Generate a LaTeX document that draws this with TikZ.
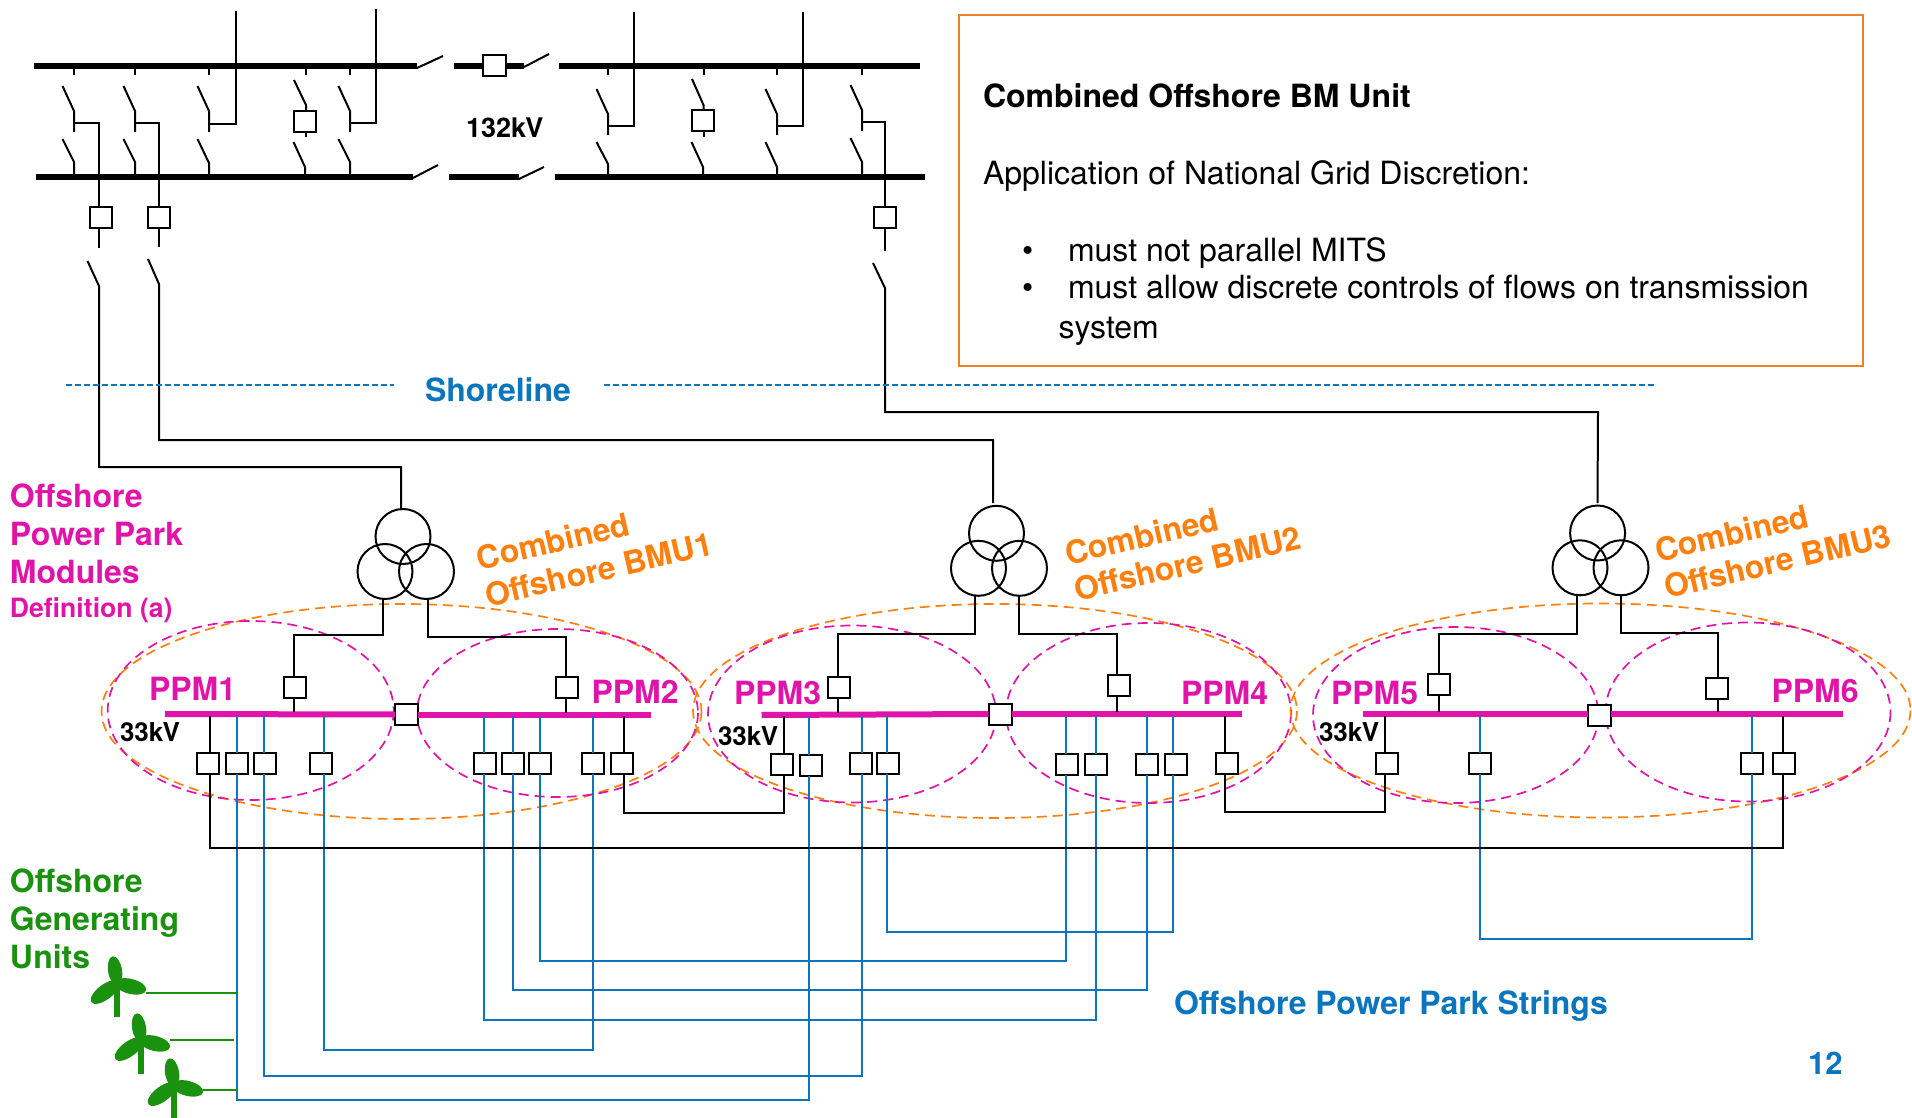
\documentclass[tikz,border=0pt]{standalone}
\usepackage{fontspec}
\setmainfont{TeX Gyre Heros}
\newcommand{\fs}[1]{\fontsize{#1}{#1}\selectfont}
\definecolor{mg}{HTML}{E014A8}
\definecolor{og}{HTML}{FF7F0F}
\definecolor{bl}{HTML}{0B75BE}
\definecolor{gn}{HTML}{1B9110}
\definecolor{bxo}{HTML}{EE8025}
\tikzset{
  wire/.style={line width=1pt,black,line join=miter},
  bw/.style={line width=1pt,bl,line join=miter},
  gw/.style={line width=1pt,gn},
  hvbus/.style={line width=3pt,black},
  mgbus/.style={line width=3pt,mg},
  sbox/.style={draw,rectangle,line width=1pt,minimum width=11pt,minimum height=10.5pt,inner sep=0,outer sep=0},
  cbox/.style={sbox,fill=white,minimum width=11.5pt},
  wdg/.style={draw,circle,line width=1pt,minimum size=27.5pt,inner sep=0,outer sep=0},
  lbl/.style={anchor=base west,inner sep=0,outer sep=0,font=\bfseries},
  mgl/.style={lbl,text=mg},
  ogl/.style={lbl,text=og,rotate=13,font=\bfseries\fs{16}},
  mge/.style={draw=mg,line width=.85pt,dash pattern=on 5pt off 3pt},
  oge/.style={draw=og,line width=.85pt,dash pattern=on 5pt off 3pt},
  shore/.style={draw=bl,line width=.6pt,dash pattern=on 3pt off 1.5pt},
  plain/.style={anchor=base west,inner sep=0,outer sep=0,font=\fs{16}}
}
\newcommand{\strng}[5]{\draw[bw] (#1.south -| #2,0) -- (#2,#5) -- (#4,#5) -- (#3.south -| #4,0);}
\newcommand{\blk}[5]{\draw[wire] (#1.south -| #2,0) -- (#2,#5) -- (#4,#5) -- (#3.south -| #4,0);}
\newcommand{\turb}[6]{% hub x, hub y, stem bottom, line y, line x0, line x1
  \begin{scope}[shift={(#1,#2)}]
    \fill[gn,rotate=99] (12.5,0) ellipse (14.5 and 7);
    \fill[gn,rotate=-14] (14,0) ellipse (16 and 7.5);
    \fill[gn,rotate=217] (15,0) ellipse (17 and 7.5);
  \end{scope}
  \draw[line width=3pt,gn] (#1,#2) -- (#1,#3);
  \draw[gw] (#5,#4) -- (#6,#4);
}
\begin{document}
\begin{tikzpicture}[x=0.5pt,y=-0.5pt]
\useasboundingbox (0,0) rectangle (1912,1118);
% ellipses
\draw[oge] (401.5,711.5) ellipse (300 and 107.5);
\draw[mge] (250.7,710.5) ellipse (143 and 89.5);
\draw[mge] (557.5,713) ellipse (140.5 and 84);
\draw[oge] (995,711) ellipse (302 and 107);
\draw[mge] (852,714) ellipse (144 and 88.5);
\draw[mge] (1148.5,713) ellipse (142.5 and 90);
\draw[oge] (1600.5,710.5) ellipse (310 and 107);
\draw[mge] (1455.7,715) ellipse (142.7 and 88);
\draw[mge] (1748,712) ellipse (142.5 and 89.5);
% ---------- 132 kV busbars
\draw[hvbus] (34,66) -- (417,66);
\draw[hvbus] (454,66) -- (524,66);
\draw[hvbus] (559,66) -- (920,66);
\draw[hvbus] (36,177) -- (413,177);
\draw[hvbus] (449,177) -- (519,177);
\draw[hvbus] (555,177) -- (925,177);
\draw[wire] (417,68) -- (443,56);
\draw[wire] (524,67) -- (549,54);
\draw[wire] (413,178) -- (438,165);
\draw[wire] (519,179) -- (544,167);
\node[cbox] (cpl) at (494,65.5) {};
% upper isolators
\foreach \x/\d in {74/0,135/0,209/0,350/0,608/3,777/3,862/-1}{
  \draw[wire] (\x,66) -- (\x,75);
  \draw[wire] (\x-11.5,86+\d) -- (\x,111+\d) -- (\x,132+\d);
}
% lower isolators
\foreach \x/\t/\m in {74/139/162,135/139/162,209/139/163,305/142/167,350/139/162,608/142/164,703/142/167,777/142/167,862/138/162}{
  \draw[wire] (\x-11.5,\t) -- (\x,\m) -- (\x,177);
}
% boxed bays
\node[sbox] (u1) at (305,121.5) {};
\node[sbox] (u2) at (703,120.5) {};
\draw[wire] (306,66) -- (306,75);
\draw[wire] (294,80) -- (306,105) -- (u1.north -| 306,0);
\draw[wire] (u1.south -| 306,0) -- (306,137);
\draw[wire] (704,66) -- (704,75);
\draw[wire] (692,79) -- (703.5,105) -- (u2.north -| 703.5,0);
\draw[wire] (u2.south -| 703.5,0) -- (703.5,137);
% outgoing tails
\draw[wire] (209,124) -- (236,124) -- (236,11);
\draw[wire] (350,123) -- (375.5,123) -- (375.5,9);
\draw[wire] (608,126) -- (634,126) -- (634,12);
\draw[wire] (777,126) -- (803,126) -- (803,12);
% transformers
\node[wdg] (t1a) at (403,536.5) {};
\node[wdg] (t1b) at (385,571.5) {};
\node[wdg] (t1c) at (426.5,571.5) {};
\node[wdg] (t2a) at (996.5,533.3) {};
\node[wdg] (t2b) at (978.5,568.3) {};
\node[wdg] (t2c) at (1019.5,568.3) {};
\node[wdg] (t3a) at (1597.6,533) {};
\node[wdg] (t3b) at (1580,567.8) {};
\node[wdg] (t3c) at (1621,567.8) {};
% feeders
\node[sbox] (q1) at (100.5,217.5) {};
\node[sbox] (q2) at (159,218) {};
\node[sbox] (q3) at (885,218) {};
\draw[wire] (74,123) -- (99,123) -- (q1.north -| 99,0);
\draw[wire] (q1.south -| 99,0) -- (99,248);
\draw[wire] (87.5,261) -- (99,286) -- (99,467) -- (401,467) -- (t1a.north -| 401,0);
\draw[wire] (135,123) -- (159,123) -- (q2.north);
\draw[wire] (q2.south) -- (159,247);
\draw[wire] (148,259) -- (159,284) -- (159,440) -- (993,440) -- (993,503);
\draw[wire] (862,122) -- (885,122) -- (q3.north);
\draw[wire] (q3.south) -- (885,251);
\draw[wire] (873,263) -- (885,288) -- (885,412) -- (1598,412) -- (1597.5,503);
% ---------- 33 kV
\node[cbox] (c1) at (406.5,714.5) {};
\node[cbox] (c2) at (1000,714) {};
\node[cbox] (c3) at (1599.5,715.3) {};
\draw[mgbus] (165,714) -- (c1.west);
\draw[mgbus] (c1.east |- 0,715) -- (651,715);
\draw[mgbus] (761.5,715) -- (c2.west);
\draw[mgbus] (c2.east |- 0,714) -- (1241.5,714);
\draw[mgbus] (1363,714) -- (c3.west |- 0,714);
\draw[mgbus] (c3.east |- 0,713.7) -- (1843,713.7);
\node[sbox] (g1) at (295,687.5) {};
\node[sbox] (g2) at (567,687.5) {};
\node[sbox] (g3) at (839.4,687.3) {};
\node[sbox] (g4) at (1119,685.5) {};
\node[sbox] (g5) at (1438.6,684.5) {};
\node[sbox] (g6) at (1716.5,688.5) {};
\draw[wire] (t1b.south -| 382.5,0) -- (382.5,635) -- (294,635) -- (g1.north -| 294,0);
\draw[wire] (g1.south -| 294,0) -- (294,712);
\draw[wire] (t1c.south -| 428,0) -- (428,637) -- (565.5,637) -- (g2.north -| 565.5,0);
\draw[wire] (g2.south -| 565.5,0) -- (565.5,713);
\draw[wire] (t2b.south -| 975.4,0) -- (975.4,634) -- (838,634) -- (g3.north -| 838,0);
\draw[wire] (g3.south -| 838,0) -- (838,713);
\draw[wire] (t2c.south -| 1019,0) -- (1019,633.7) -- (1117.3,633.7) -- (g4.north -| 1117.3,0);
\draw[wire] (g4.south -| 1117.3,0) -- (1117.3,712);
\draw[wire] (t3b.south -| 1577,0) -- (1577,633.7) -- (1439,633.7) -- (g5.north -| 1439,0);
\draw[wire] (g5.south -| 1439,0) -- (1439,712);
\draw[wire] (t3c.south -| 1620.6,0) -- (1620.6,633) -- (1718,633) -- (g6.north -| 1718,0);
\draw[wire] (g6.south -| 1718,0) -- (1718,712);
% small breakers: name/box x/box y/line x/colour
\foreach \n/\bx/\by/\lx/\st in {
 a1/207.8/763.5/210/wire,a2/237/763.5/237/bw,a3/265/763.5/264/bw,a4/321/763.5/324/bw,
 a5/485/763.5/484/bw,a6/513/763.5/513/bw,a7/539.5/763.5/540/bw,a8/593/763.5/593/bw,a9/622/763.5/623.5/wire,
 b1/782.4/764/783.6/wire,b2/811/765/809/bw,b3/861/763/862/bw,b4/887.8/763/887/bw,
 b5/1066.5/764/1065.5/bw,b6/1095.8/764/1096.4/bw,b7/1146.8/764/1147/bw,b8/1175.7/764/1173/bw,b9/1226.7/763/1225/wire,
 d1/1386.8/763/1385/wire,d2/1479.5/763/1480/bw,d3/1751.8/763/1752.4/bw,d4/1783.8/763/1782.6/wire}{
  \node[sbox] (\n) at (\bx,\by) {};
  \draw[\st] (\lx,716) -- (\n.north -| \lx,0);
}
% strings
\strng{a2}{237}{b2}{809}{1099.7}
\strng{a3}{264}{b3}{862}{1075.7}
\strng{a4}{324}{a8}{593}{1050}
\strng{a5}{484}{b6}{1096.4}{1020}
\strng{a6}{513}{b7}{1147}{990}
\strng{a7}{540}{b5}{1065.5}{960.7}
\strng{b4}{887}{b8}{1173}{932}
\strng{d2}{1480}{d3}{1752.4}{939}
% black ties
\blk{a1}{210}{d4}{1782.6}{848}
\blk{a9}{623.5}{b1}{783.6}{812.7}
\blk{b9}{1225}{d1}{1385}{812}
% shoreline
\coordinate (sh1) at (66,385);
\coordinate (sh2) at (394,385);
\coordinate (sh3) at (604,385);
\coordinate (sh4) at (1655,385);
\draw[shore] (sh1) -- (sh2);
\draw[shore] (sh3) -- (sh4);
\node[lbl,text=bl,font=\bfseries\fs{16}] (shl) at (425,401.5) {Shoreline};
% turbines
\turb{117}{983}{1017}{992.7}{146}{237}
\turb{141}{1040}{1074}{1040}{169.6}{234}
\turb{174}{1085}{1118}{1089.7}{203}{237}
% labels
\node[lbl,font=\bfseries\fs{13.5}] (kv) at (466,138) {132kV};
\node[mgl,font=\bfseries\fs{16}] (m1) at (10,507.5) {Offshore};
\node[mgl,font=\bfseries\fs{16}] (m2) at (10,545) {Power Park};
\node[mgl,font=\bfseries\fs{16}] (m3) at (10,583.5) {Modules};
\node[mgl,font=\bfseries\fs{13.3}] (m4) at (10,617) {Definition (a)};
\node[mgl,font=\bfseries\fs{16}] (p1) at (149,700) {PPM1};
\node[mgl,font=\bfseries\fs{16}] (p2) at (591.5,703) {PPM2};
\node[mgl,font=\bfseries\fs{16}] (p3) at (734,704) {PPM3};
\node[mgl,font=\bfseries\fs{16}] (p4) at (1181,704) {PPM4};
\node[mgl,font=\bfseries\fs{16}] (p5) at (1331,704) {PPM5};
\node[mgl,font=\bfseries\fs{16}] (p6) at (1771.5,702) {PPM6};
\node[lbl,font=\bfseries\fs{13}] (k1) at (120,741.7) {33kV};
\node[lbl,font=\bfseries\fs{13}] (k2) at (718,745) {33kV};
\node[lbl,font=\bfseries\fs{13}] (k3) at (1319,741.7) {33kV};
\node[ogl] (o1a) at (479.5,570) {Combined};
\node[ogl] (o1b) at (488.5,607) {Offshore BMU1};
\node[ogl] (o2a) at (1068,565) {Combined};
\node[ogl] (o2b) at (1077,601) {Offshore BMU2};
\node[ogl] (o3a) at (1658,562) {Combined};
\node[ogl] (o3b) at (1667,598.7) {Offshore BMU3};
\node[lbl,text=gn,font=\bfseries\fs{16}] (g1l) at (10,892.5) {Offshore};
\node[lbl,text=gn,font=\bfseries\fs{16}] (g2l) at (10,930.5) {Generating};
\node[lbl,text=gn,font=\bfseries\fs{16}] (g3l) at (10,968.5) {Units};
\node[lbl,text=bl,font=\bfseries\fs{16}] (str) at (1174,1014.5) {Offshore Power Park Strings};
\node[lbl,text=bl,font=\bfseries\fs{15.5}] (pg) at (1808,1074) {12};
% text box
\draw[bxo,line width=1pt] (959,15) rectangle (1863,366);
\node[lbl,font=\bfseries\fs{16}] (h) at (983,108) {Combined Offshore BM Unit};
\node[plain] (l1) at (983,185) {Application of National Grid Discretion:};
\node[plain] (bu1) at (1022,262) {•};
\node[plain] (l2) at (1068,262) {must not parallel MITS};
\node[plain] (bu2) at (1022,299) {•};
\node[plain] (l3) at (1068,299) {must allow discrete controls of flows on transmission};
\node[plain] (l4) at (1058.5,338) {system};
\end{tikzpicture}
\end{document}
